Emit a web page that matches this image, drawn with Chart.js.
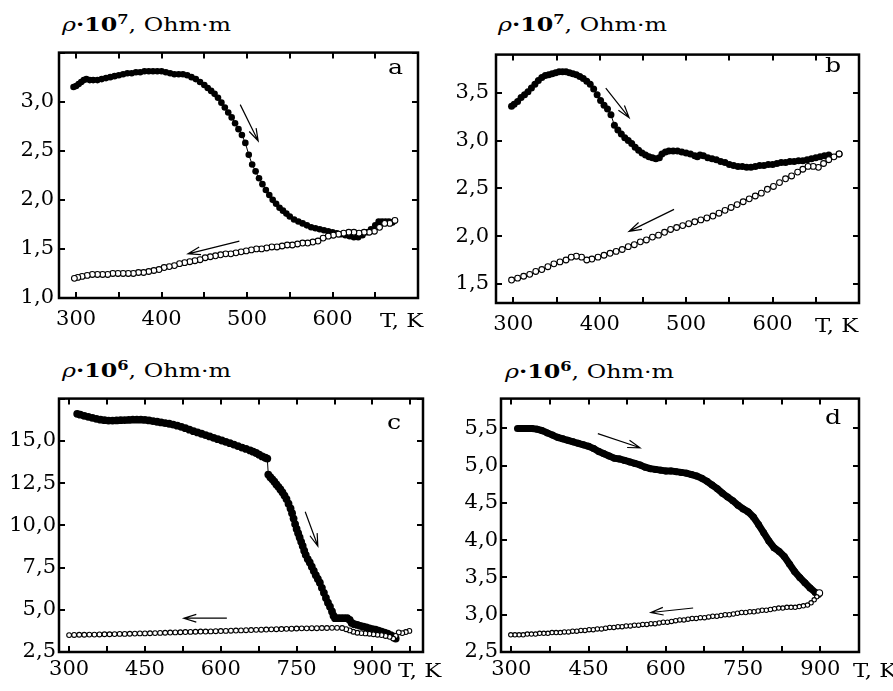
<!DOCTYPE html>
<html>
<head>
<meta charset="utf-8">
<script src="https://cdn.jsdelivr.net/npm/chart.js@4.4.1/dist/chart.umd.min.js"></script>
<style>
  body { margin: 0; background: #fff; width: 893px; height: 691px; position: relative; overflow: hidden; font-family: "DejaVu Serif", serif; color: #000; }
  canvas { position: absolute; }
  .title { position: absolute; font-size: 19px; line-height: 1; white-space: nowrap; transform: scaleX(1.25); transform-origin: 0 0; }
  .title sup { font-size: 13px; font-weight: bold; vertical-align: 7px; line-height: 0; }
  .tk { position: absolute; font-size: 19px; line-height: 1; white-space: nowrap; transform: scaleX(1.2); transform-origin: 0 0; }
  .letter { position: absolute; font-size: 21px; line-height: 1; transform: scaleX(1.2); transform-origin: 0 0; }
</style>
</head>
<body>
<div class="title" style="left:62px;top:15px"><i>ρ</i><b>·10</b><sup>7</sup>, Ohm·m</div>
<div class="title" style="left:498px;top:15px"><i>ρ</i><b>·10</b><sup>7</sup>, Ohm·m</div>
<div class="title" style="left:62px;top:361px"><i>ρ</i><b>·10</b><sup>6</sup>, Ohm·m</div>
<div class="title" style="left:505px;top:362px"><i>ρ</i><b>·10</b><sup>6</sup>, Ohm·m</div>

<canvas id="chartA" width="440" height="305" style="left:0;top:35px"></canvas>
<canvas id="chartB" width="440" height="310" style="left:443px;top:35px"></canvas>
<canvas id="chartC" width="440" height="308" style="left:0;top:383px"></canvas>
<canvas id="chartD" width="450" height="308" style="left:443px;top:383px"></canvas>

<div class="tk" style="left:380px;top:311px">T, K</div>
<div class="tk" style="left:815px;top:316px">T, K</div>
<div class="tk" style="left:398px;top:661px">T, K</div>
<div class="tk" style="left:853px;top:661px">T, K</div>

<div class="letter" style="left:388px;top:57px">a</div>
<div class="letter" style="left:825px;top:55px">b</div>
<div class="letter" style="left:387px;top:412px">c</div>
<div class="letter" style="left:825px;top:407px">d</div>

<script>
// panel a: rho*1e7, heating (filled) and cooling (open)
const aHeatT = [297, 300, 303, 306, 309, 312, 316, 320, 325, 330, 335, 340, 345, 350, 355, 360, 365, 370, 375, 380, 385, 390, 395, 400, 405, 410, 415, 420, 425, 430, 435, 440, 445, 450, 454, 458, 462, 466, 470, 474, 478, 482, 486, 490, 494, 498, 502, 506, 510, 514, 518, 522, 526, 530, 534, 538, 542, 546, 550, 555, 560, 565, 570, 575, 580, 585, 590, 595, 600, 605, 610, 615, 620, 625, 630, 635, 640, 645, 650, 654, 658, 662, 666, 670];
const aHeatR = [3.15, 3.16, 3.18, 3.20, 3.22, 3.23, 3.22, 3.22, 3.22, 3.23, 3.24, 3.25, 3.26, 3.27, 3.28, 3.29, 3.29, 3.30, 3.30, 3.31, 3.31, 3.31, 3.31, 3.31, 3.30, 3.29, 3.28, 3.28, 3.28, 3.27, 3.25, 3.23, 3.20, 3.17, 3.14, 3.11, 3.08, 3.04, 2.99, 2.94, 2.89, 2.84, 2.78, 2.72, 2.66, 2.58, 2.46, 2.36, 2.29, 2.22, 2.16, 2.10, 2.05, 2.00, 1.96, 1.92, 1.89, 1.86, 1.83, 1.80, 1.78, 1.76, 1.74, 1.72, 1.71, 1.70, 1.69, 1.68, 1.67, 1.66, 1.65, 1.64, 1.63, 1.62, 1.62, 1.64, 1.67, 1.70, 1.74, 1.78, 1.78, 1.78, 1.78, 1.77];
const aCoolT = [673, 667, 661, 655, 649, 643, 637, 631, 625, 619, 613, 607, 601, 595, 589, 583, 577, 571, 565, 559, 553, 547, 541, 535, 529, 523, 517, 511, 505, 499, 493, 487, 481, 475, 469, 463, 457, 451, 445, 439, 433, 427, 421, 415, 409, 403, 397, 391, 385, 379, 373, 367, 361, 355, 349, 343, 337, 331, 325, 319, 313, 307, 302, 298];
const aCoolR = [1.79, 1.76, 1.76, 1.72, 1.68, 1.67, 1.67, 1.66, 1.67, 1.67, 1.66, 1.65, 1.64, 1.63, 1.61, 1.58, 1.57, 1.56, 1.56, 1.55, 1.54, 1.54, 1.53, 1.52, 1.52, 1.51, 1.50, 1.50, 1.49, 1.48, 1.47, 1.46, 1.45, 1.45, 1.44, 1.43, 1.42, 1.41, 1.39, 1.38, 1.37, 1.36, 1.35, 1.33, 1.32, 1.31, 1.29, 1.28, 1.27, 1.26, 1.26, 1.25, 1.25, 1.25, 1.25, 1.25, 1.24, 1.24, 1.24, 1.24, 1.23, 1.22, 1.21, 1.20];

// panel b: rho*1e7
const bHeatT = [298, 301, 305, 309, 313, 317, 321, 325, 329, 333, 337, 341, 345, 349, 353, 357, 361, 365, 369, 373, 377, 381, 385, 389, 393, 397, 401, 405, 409, 413, 417, 421, 425, 429, 433, 437, 441, 445, 449, 453, 457, 461, 465, 469, 472, 476, 480, 485, 490, 495, 500, 505, 510, 513, 516, 520, 525, 530, 535, 540, 545, 550, 555, 560, 565, 570, 575, 580, 585, 590, 595, 600, 605, 610, 615, 620, 625, 630, 635, 640, 645, 650, 655, 660, 665, 677];
const bHeatR = [3.36, 3.38, 3.41, 3.45, 3.48, 3.51, 3.55, 3.59, 3.63, 3.66, 3.68, 3.69, 3.70, 3.71, 3.72, 3.72, 3.72, 3.71, 3.70, 3.69, 3.67, 3.65, 3.62, 3.59, 3.54, 3.48, 3.42, 3.37, 3.33, 3.27, 3.16, 3.11, 3.07, 3.03, 3.00, 2.97, 2.93, 2.90, 2.87, 2.85, 2.83, 2.82, 2.81, 2.82, 2.86, 2.88, 2.89, 2.89, 2.89, 2.88, 2.87, 2.86, 2.84, 2.83, 2.85, 2.84, 2.82, 2.81, 2.80, 2.78, 2.77, 2.75, 2.74, 2.73, 2.73, 2.72, 2.72, 2.73, 2.74, 2.74, 2.75, 2.75, 2.76, 2.77, 2.77, 2.78, 2.78, 2.79, 2.79, 2.80, 2.81, 2.82, 2.83, 2.84, 2.85, 2.86];
const bCoolT = [677, 671, 665, 659, 653, 647, 641, 635, 629, 622, 615, 608, 601, 594, 587, 580, 573, 566, 559, 552, 545, 538, 531, 524, 517, 510, 503, 496, 489, 482, 475, 468, 461, 454, 447, 440, 433, 426, 419, 412, 405, 398, 391, 385, 379, 373, 367, 361, 354, 347, 340, 333, 326, 319, 312, 305, 298];
const bCoolR = [2.86, 2.83, 2.80, 2.76, 2.72, 2.73, 2.73, 2.70, 2.67, 2.63, 2.60, 2.56, 2.52, 2.49, 2.45, 2.42, 2.39, 2.36, 2.33, 2.30, 2.27, 2.24, 2.21, 2.19, 2.17, 2.15, 2.13, 2.11, 2.09, 2.07, 2.04, 2.01, 1.99, 1.96, 1.94, 1.91, 1.89, 1.86, 1.84, 1.82, 1.80, 1.78, 1.76, 1.75, 1.78, 1.79, 1.78, 1.75, 1.73, 1.71, 1.68, 1.65, 1.63, 1.60, 1.58, 1.56, 1.54];

// panel c: rho*1e6
const cHeatT = [316, 322, 330, 338, 346, 354, 362, 370, 378, 386, 394, 402, 410, 418, 426, 434, 442, 450, 458, 466, 474, 482, 490, 498, 506, 514, 522, 530, 538, 546, 554, 562, 570, 578, 586, 594, 602, 610, 618, 626, 634, 642, 650, 658, 664, 670, 676, 682, 688, 692, 694, 698, 702, 706, 710, 714, 718, 722, 726, 730, 734, 738, 741, 744, 747, 750, 753, 756, 759, 762, 765, 768, 772, 776, 780, 784, 788, 792, 796, 800, 804, 808, 812, 816, 820, 823, 826, 832, 838, 844, 850, 855, 859, 864, 870, 876, 882, 888, 894, 900, 906, 912, 918, 924, 930, 936, 941, 946];
const cHeatR = [16.6, 16.55, 16.48, 16.42, 16.36, 16.3, 16.25, 16.22, 16.2, 16.2, 16.21, 16.22, 16.23, 16.24, 16.25, 16.25, 16.25, 16.24, 16.21, 16.17, 16.13, 16.09, 16.05, 16.01, 15.96, 15.9, 15.83, 15.75, 15.66, 15.57, 15.5, 15.42, 15.34, 15.26, 15.18, 15.1, 15.02, 14.94, 14.86, 14.78, 14.69, 14.6, 14.52, 14.43, 14.36, 14.28, 14.18, 14.08, 14.0, 13.95, 13.0, 12.85, 12.72, 12.58, 12.42, 12.28, 12.12, 11.95, 11.76, 11.55, 11.28, 11.0, 10.72, 10.4, 10.07, 9.78, 9.53, 9.28, 9.02, 8.78, 8.5, 8.25, 8.0, 7.8, 7.55, 7.3, 7.05, 6.82, 6.6, 6.3, 6.0, 5.7, 5.42, 5.18, 4.9, 4.65, 4.5, 4.5, 4.5, 4.5, 4.5, 4.4, 4.22, 4.15, 4.1, 4.05, 4.0, 3.95, 3.9, 3.86, 3.82, 3.77, 3.71, 3.65, 3.58, 3.5, 3.42, 3.3];
const cCoolT = [973, 966, 959, 952, 946, 941, 934, 926, 918, 910, 902, 894, 886, 878, 870, 862, 855, 848, 840, 830, 820, 810, 800, 790, 780, 770, 760, 750, 740, 730, 720, 710, 700, 690, 680, 670, 660, 650, 640, 630, 620, 610, 600, 590, 580, 570, 560, 550, 540, 530, 520, 510, 500, 490, 480, 470, 460, 450, 440, 430, 420, 410, 400, 390, 380, 370, 360, 350, 340, 330, 320, 310, 300];
const cCoolR = [3.75, 3.68, 3.62, 3.66, 3.45, 3.3, 3.4, 3.45, 3.5, 3.52, 3.55, 3.58, 3.6, 3.62, 3.64, 3.7, 3.78, 3.85, 3.92, 3.93, 3.93, 3.92, 3.92, 3.91, 3.91, 3.9, 3.9, 3.89, 3.88, 3.87, 3.86, 3.85, 3.84, 3.83, 3.82, 3.81, 3.8, 3.79, 3.78, 3.77, 3.76, 3.75, 3.74, 3.73, 3.72, 3.71, 3.71, 3.7, 3.69, 3.68, 3.67, 3.66, 3.65, 3.64, 3.63, 3.62, 3.61, 3.6, 3.6, 3.59, 3.58, 3.57, 3.57, 3.56, 3.55, 3.55, 3.54, 3.53, 3.53, 3.52, 3.52, 3.51, 3.5];

// panel d: rho*1e6
const dHeatT = [312, 320, 330, 340, 350, 360, 370, 380, 390, 400, 410, 420, 430, 440, 450, 460, 470, 480, 490, 500, 510, 520, 530, 540, 550, 560, 570, 580, 590, 600, 610, 620, 630, 640, 650, 660, 670, 680, 690, 700, 710, 720, 730, 740, 750, 760, 770, 780, 790, 800, 810, 820, 830, 840, 850, 860, 870, 880, 890, 896];
const dHeatR = [5.5, 5.5, 5.5, 5.5, 5.49, 5.47, 5.44, 5.41, 5.38, 5.36, 5.34, 5.32, 5.3, 5.28, 5.26, 5.23, 5.19, 5.16, 5.13, 5.1, 5.09, 5.07, 5.05, 5.03, 5.01, 4.98, 4.96, 4.95, 4.94, 4.93, 4.93, 4.92, 4.91, 4.9, 4.88, 4.86, 4.83, 4.79, 4.74, 4.69, 4.63, 4.58, 4.53, 4.47, 4.42, 4.38, 4.31, 4.21, 4.1, 3.99, 3.9, 3.85, 3.78, 3.68, 3.58, 3.5, 3.43, 3.36, 3.3, 3.27];
const dCoolT = [898, 893, 888, 882, 875, 867, 859, 851, 843, 835, 827, 819, 811, 803, 795, 787, 779, 771, 763, 755, 747, 739, 731, 723, 715, 707, 699, 691, 683, 675, 667, 659, 651, 643, 635, 627, 619, 611, 603, 595, 587, 579, 571, 563, 555, 547, 539, 531, 523, 515, 507, 499, 491, 483, 475, 467, 459, 451, 443, 435, 427, 419, 411, 403, 395, 387, 379, 371, 363, 355, 347, 339, 331, 323, 315, 307, 299];
const dCoolR = [3.29, 3.24, 3.2, 3.16, 3.13, 3.12, 3.11, 3.1, 3.1, 3.1, 3.09, 3.09, 3.08, 3.07, 3.06, 3.06, 3.05, 3.04, 3.04, 3.03, 3.03, 3.02, 3.01, 3.0, 3.0, 2.99, 2.98, 2.98, 2.97, 2.96, 2.96, 2.95, 2.95, 2.94, 2.93, 2.93, 2.92, 2.91, 2.9, 2.9, 2.89, 2.88, 2.88, 2.87, 2.87, 2.86, 2.86, 2.85, 2.85, 2.84, 2.84, 2.83, 2.83, 2.82, 2.81, 2.81, 2.8, 2.8, 2.79, 2.79, 2.78, 2.78, 2.77, 2.77, 2.76, 2.76, 2.76, 2.75, 2.75, 2.75, 2.74, 2.74, 2.74, 2.73, 2.73, 2.73, 2.73];

// tick values
const abXLabels = [300, 400, 500, 600];
const abXMarks = [300, 350, 400, 450, 500, 550, 600, 650];
const cdXLabels = [300, 450, 600, 750, 900];
const cdXMarks = [300, 375, 450, 525, 600, 675, 750, 825, 900, 975];
const aYTicks = [1.0, 1.5, 2.0, 2.5, 3.0];
const bYTicks = [1.5, 2.0, 2.5, 3.0, 3.5];
const cYTicks = [2.5, 5.0, 7.5, 10.0, 12.5, 15.0];
const dYTicks = [2.5, 3.0, 3.5, 4.0, 4.5, 5.0, 5.5];

// direction arrows [T1, R1, T2, R2], head at the second point
const aArrows = [[492, 2.97, 513, 2.60], [491, 1.58, 431, 1.45]];
const bArrows = [[407, 3.55, 434, 3.24], [486, 2.28, 434, 2.05]];
const cArrows = [[767, 10.8, 792, 8.77], [612, 4.5, 527, 4.5]];
const dArrows = [[468, 5.43, 550, 5.24], [653, 3.09, 571, 3.03]];

const serif = "'DejaVu Serif', serif";
Chart.defaults.font.family = serif;
Chart.defaults.color = "#000";

function zip(xs, ys) {
  return xs.map((x, i) => ({ x: x, y: ys[i] }));
}

function drawArrow(ctx, x1, y1, x2, y2) {
  const ang = Math.atan2(y2 - y1, x2 - x1);
  const len = 13, spread = 0.3;
  ctx.beginPath();
  ctx.moveTo(x1, y1);
  ctx.lineTo(x2, y2);
  ctx.moveTo(x2 - len * Math.cos(ang - spread), y2 - len * Math.sin(ang - spread));
  ctx.lineTo(x2, y2);
  ctx.lineTo(x2 - len * Math.cos(ang + spread), y2 - len * Math.sin(ang + spread));
  ctx.stroke();
}

// box around the plot, inward ticks on all four sides, arrows
const frameTicks = {
  id: "frameTicks",
  afterDraw(chart, args, opts) {
    const ctx = chart.ctx;
    const a = chart.chartArea;
    const xs = chart.scales.x, ys = chart.scales.y;
    ctx.save();
    ctx.strokeStyle = "#000";
    ctx.lineWidth = 2;
    ctx.beginPath();
    opts.xMarks.forEach((v) => {
      const px = Math.round(xs.getPixelForValue(v));
      ctx.moveTo(px, a.bottom); ctx.lineTo(px, a.bottom - 6);
      ctx.moveTo(px, a.top); ctx.lineTo(px, a.top + 6);
    });
    opts.yMarks.forEach((v) => {
      const py = Math.round(ys.getPixelForValue(v));
      ctx.moveTo(a.left, py); ctx.lineTo(a.left + 6, py);
      ctx.moveTo(a.right, py); ctx.lineTo(a.right - 6, py);
    });
    ctx.stroke();
    ctx.lineWidth = 2.5;
    ctx.strokeRect(a.left, a.top, a.right - a.left, a.bottom - a.top);
    ctx.lineWidth = 1.2;
    opts.arrows.forEach((r) => {
      drawArrow(ctx, xs.getPixelForValue(r[0]), ys.getPixelForValue(r[1]),
        xs.getPixelForValue(r[2]), ys.getPixelForValue(r[3]));
    });
    ctx.restore();
  },
};

function makePanel(id, p) {
  new Chart(document.getElementById(id), {
    type: "scatter",
    data: {
      datasets: [
        {
          data: zip(p.coolT, p.coolR),
          order: 0,
          showLine: false,
          pointRadius: p.coolRadius,
          pointBackgroundColor: "#fff",
          pointBorderColor: "#000",
          pointBorderWidth: 1.1,
        },
        {
          data: zip(p.heatT, p.heatR),
          order: 1,
          showLine: true,
          borderColor: "#000",
          borderWidth: p.heatLine,
          pointRadius: p.heatRadius,
          pointBackgroundColor: "#000",
          pointBorderColor: "#000",
          pointBorderWidth: 0,
        },
      ],
    },
    options: {
      responsive: false,
      animation: false,
      devicePixelRatio: 1,
      layout: { padding: { left: 0, top: 8, right: p.padRight, bottom: 0 } },
      plugins: {
        legend: { display: false },
        tooltip: { enabled: false },
        frameTicks: { xMarks: p.xMarks, yMarks: p.yMarks, arrows: p.arrows },
      },
      scales: {
        x: {
          type: "linear",
          min: p.xMin,
          max: p.xMax,
          grid: { display: false, drawTicks: false },
          border: { display: false },
          afterBuildTicks: (s) => { s.ticks = p.xLabels.map((v) => ({ value: v })); },
          afterFit: (s) => { s.height = p.xHeight; },
          ticks: { padding: p.xPad, maxRotation: 0, font: { family: serif, size: 21 }, color: "#000", callback: (v) => String(v) },
        },
        y: {
          type: "linear",
          min: p.yMin,
          max: p.yMax,
          grid: { display: false, drawTicks: false },
          border: { display: false },
          afterBuildTicks: (s) => { s.ticks = p.yLabels.map((v) => ({ value: v })); },
          afterFit: (s) => { s.width = p.yWidth; },
          ticks: { padding: p.yPad, font: { family: serif, size: 21 }, color: "#000", callback: (v) => v.toFixed(1).replace(".", ",") },
        },
      },
    },
    plugins: [frameTicks],
  });
}

makePanel("chartA", {
  heatT: aHeatT, heatR: aHeatR, coolT: aCoolT, coolR: aCoolR,
  heatRadius: 3.3, heatLine: 1, coolRadius: 2.9,
  xMin: 280, xMax: 700, yMin: 1.0, yMax: 3.5,
  xLabels: abXLabels, xMarks: abXMarks, yLabels: aYTicks, yMarks: [1.0, 1.5, 2.0, 2.5, 3.0, 3.5],
  arrows: aArrows, padRight: 22, xHeight: 42, yWidth: 59, xPad: 9, yPad: 5,
});
makePanel("chartB", {
  heatT: bHeatT, heatR: bHeatR, coolT: bCoolT, coolR: bCoolR,
  heatRadius: 3.5, heatLine: 1, coolRadius: 2.9,
  xMin: 280, xMax: 700, yMin: 1.3, yMax: 3.9,
  xLabels: abXLabels, xMarks: abXMarks, yLabels: bYTicks, yMarks: bYTicks,
  arrows: bArrows, padRight: 24, xHeight: 42, yWidth: 53, xPad: 9, yPad: 7,
});
makePanel("chartC", {
  heatT: cHeatT, heatR: cHeatR, coolT: cCoolT, coolR: cCoolR,
  heatRadius: 3.9, heatLine: 1, coolRadius: 2.4,
  xMin: 280, xMax: 1000, yMin: 2.5, yMax: 17.5,
  xLabels: cdXLabels, xMarks: cdXMarks, yLabels: cYTicks, yMarks: [2.5, 5.0, 7.5, 10.0, 12.5, 15.0, 17.5],
  arrows: cArrows, padRight: 17, xHeight: 39, yWidth: 59, xPad: 5, yPad: 3,
});
makePanel("chartD", {
  heatT: dHeatT, heatR: dHeatR, coolT: dCoolT, coolR: dCoolR,
  heatRadius: 3.5, heatLine: 7, coolRadius: (c) => (c.dataIndex === 0 ? 3.3 : 2.2),
  xMin: 280, xMax: 975, yMin: 2.5, yMax: 5.9,
  xLabels: cdXLabels, xMarks: cdXMarks.slice(0, 9), yLabels: dYTicks, yMarks: dYTicks,
  arrows: dArrows, padRight: 34, xHeight: 39, yWidth: 58, xPad: 5, yPad: 3,
});
</script>
</body>
</html>
